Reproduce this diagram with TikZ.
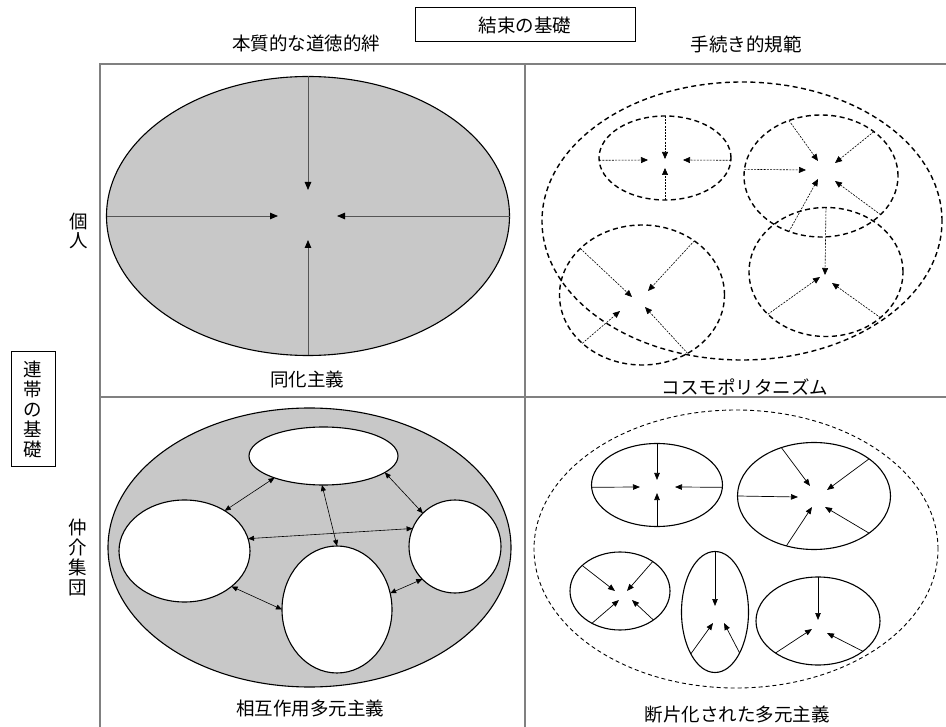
\documentclass[tikz,border=0pt]{standalone}
\usepackage{fontspec}
\setmainfont{Noto Sans CJK JP}
\usetikzlibrary{shapes.geometric,arrows.meta,calc}

\definecolor{panelgray}{RGB}{200,200,200}
\definecolor{framegray}{RGB}{128,128,128}
\definecolor{linegray}{RGB}{85,85,85}

% spoke: arrow from a border point of an oval (given by angle) to a named
% coordinate placed at an offset from the oval's centre
\newcommand\spoke[4]{%
  \coordinate (#2-#3) at ($(#2.center)+(#4)$);
  \draw[#1] (#2.#3) -- (#2-#3);}

\begin{document}
\begin{tikzpicture}[x=1pt,y=-1pt,
  every node/.style={inner sep=0pt, outer sep=0pt},
  lbl/.style={font=\fontsize{18.5}{20}\selectfont},
  vlbl/.style={font=\fontsize{18.5}{19}\selectfont, align=center},
  oval/.style={ellipse, inner sep=0pt, outer sep=0pt},
  solidoval/.style={oval, draw=black, line width=1.1pt},
  dashoval/.style={oval, draw=black, line width=1.4pt, dash pattern=on 5pt off 3.5pt},
  thindashoval/.style={oval, draw=black, line width=0.9pt, dash pattern=on 4pt off 3pt},
  frameline/.style={framegray, line width=1.5pt},
  tipA/.style={linegray, line width=0.8pt, -{Triangle[length=8pt,width=6.5pt,color=black]}},
  tipT/.style={black, line width=0.6pt, dash pattern=on 2pt off 1.2pt, -{Triangle[length=7pt,width=6pt]}},
  tipS/.style={black, line width=0.7pt, -{Triangle[length=7pt,width=5.5pt]}},
  dbl/.style={black, line width=0.6pt, {Triangle[length=6pt,width=5pt]}-{Triangle[length=6pt,width=5pt]}}
]
\useasboundingbox (0,0) rectangle (946,727);

% frame of the two-by-two table
\draw[frameline] (946,64) -- (100,64) -- (100,727);
\draw[frameline] (525,64) -- (525,727);
\draw[frameline] (100,397) -- (946,397);

% headings
\node[lbl] (h1) at (306,43) {本質的な道徳的絆};
\node[lbl] (h2) at (746,44) {手続き的規範};
\node[lbl, draw=black, line width=1pt, minimum width=220pt, minimum height=34pt] (cohesion) at (525,25) {結束の基礎};
\node[vlbl] (indiv) at (79,231) {個\\人};
\node[vlbl, font=\fontsize{18.5}{20}\selectfont, draw=black, line width=1pt,
      minimum width=44pt, minimum height=115pt] (solidarity) at (33,409.5) {連\\帯\\の\\基\\礎};
\node[vlbl, font=\fontsize{18.5}{20}\selectfont] (groups) at (78,557) {仲\\介\\集\\団};

% assimilation
\node[solidoval, fill=panelgray, minimum width=403pt, minimum height=279pt] (assim) at (308,216) {};
\spoke{tipA}{assim}{90}{0,-26}
\spoke{tipA}{assim}{270}{0,24}
\spoke{tipA}{assim}{180}{-30,0}
\spoke{tipA}{assim}{0}{29,0}
\node[lbl] (assimlbl) at (307,379) {同化主義};

% cosmopolitanism
\node[dashoval, minimum width=400pt, minimum height=278pt] (cosmo) at (742,221) {};
\node[dashoval, minimum width=132pt, minimum height=84pt] (ca) at (665,158) {};
\spoke{tipT}{ca}{90}{0,1}
\spoke{tipT}{ca}{270}{0,10}
\spoke{tipT}{ca}{182}{-17,2}
\spoke{tipT}{ca}{358}{18,2}
\node[dashoval, minimum width=154pt, minimum height=122pt] (cb) at (821,176) {};
\spoke{tipT}{cb}{120}{-3,-15}
\spoke{tipT}{cb}{40}{14,-13}
\spoke{tipT}{cb}{175}{-15,-6}
\spoke{tipT}{cb}{240}{-3,3}
\spoke{tipT}{cb}{327}{14,5}
\node[dashoval, minimum width=154pt, minimum height=129pt] (cc) at (826,272) {};
\spoke{tipT}{cc}{90}{-1,3}
\spoke{tipT}{cc}{216}{-6,5}
\spoke{tipT}{cc}{320}{6,11}
\node[dashoval, minimum width=165pt, minimum height=140pt] (cd) at (642,295) {};
\spoke{tipT}{cd}{143}{-10,2}
\spoke{tipT}{cd}{46}{6,-4}
\spoke{tipT}{cd}{219}{-22,16}
\spoke{tipT}{cd}{308}{3,12}
\node[lbl] (cosmolbl) at (745,387) {コスモポリタニズム};

% interactive pluralism
\node[solidoval, fill=panelgray, minimum width=403pt, minimum height=279pt] (inter) at (309.5,547.5) {};
\node[solidoval, fill=white, minimum width=149pt, minimum height=58pt] (ga) at (323.5,456) {};
\node[solidoval, fill=white, minimum width=131pt, minimum height=102pt] (gb) at (184.5,551) {};
\node[solidoval, fill=white, minimum width=110pt, minimum height=127pt] (gc) at (337,609.5) {};
\node[solidoval, fill=white, minimum width=92pt, minimum height=93pt] (gd) at (455,546.5) {};
\draw[dbl] (gb.45) -- (ga.204);
\draw[dbl] (ga.267) -- (gc.90);
\draw[dbl] (ga.345) -- (gd.134);
\draw[dbl] (gb.11) -- (gd.157);
\draw[dbl] (gb.323) -- (gc.180);
\draw[dbl] (gc.17) -- (gd.225);
\node[lbl] (interlbl) at (310,708) {相互作用多元主義};

% fragmented pluralism
\node[thindashoval, minimum width=404pt, minimum height=278pt] (frag) at (736,549) {};
\node[solidoval, minimum width=131pt, minimum height=83pt] (fa) at (657,485) {};
\spoke{tipS}{fa}{90}{0,-5}
\spoke{tipS}{fa}{270}{0,8}
\spoke{tipS}{fa}{182}{-17,2}
\spoke{tipS}{fa}{358}{18,2}
\node[solidoval, minimum width=153pt, minimum height=107pt] (fb) at (814,496) {};
\spoke{tipS}{fb}{124}{-4,-10}
\spoke{tipS}{fb}{34}{13,-6}
\spoke{tipS}{fb}{180}{-16,1}
\spoke{tipS}{fb}{241}{-2,11}
\spoke{tipS}{fb}{326}{11,11}
\node[solidoval, minimum width=100pt, minimum height=78pt] (fc) at (620,591) {};
\spoke{tipS}{fc}{146}{-5,0}
\spoke{tipS}{fc}{42}{7,0}
\spoke{tipS}{fc}{229}{-1,9}
\spoke{tipS}{fc}{319}{12,9}
\node[solidoval, minimum width=67pt, minimum height=121pt] (fd) at (715,612) {};
\spoke{tipS}{fd}{90}{0,-6}
\spoke{tipS}{fd}{240}{-2,11}
\spoke{tipS}{fd}{301}{9,11}
\node[solidoval, minimum width=124pt, minimum height=88pt] (fe) at (818,621) {};
\spoke{tipS}{fe}{90}{0,-1}
\spoke{tipS}{fe}{217}{-6,8}
\spoke{tipS}{fe}{326}{9,12}
\node[lbl] (fraglbl) at (737,715) {断片化された多元主義};
\end{tikzpicture}
\end{document}
